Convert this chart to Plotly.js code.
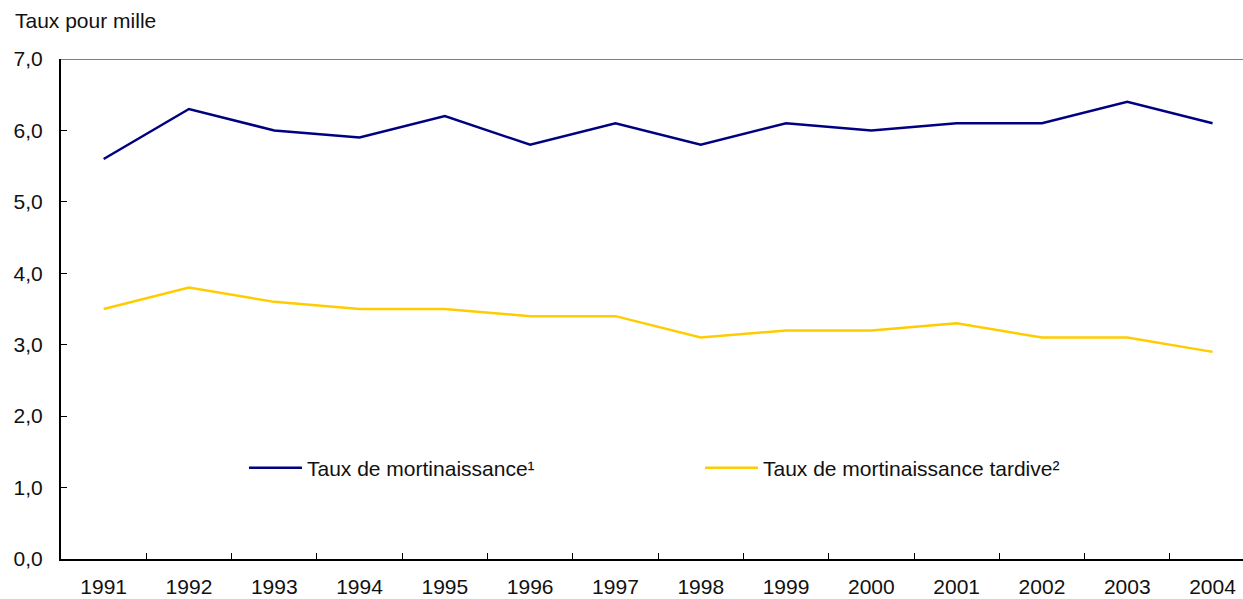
<!DOCTYPE html>
<html>
<head>
<meta charset="utf-8">
<script src="https://cdn.plot.ly/plotly-3.0.1.min.js"></script>
<style>html,body{margin:0;padding:0;background:#fff;}#chart{width:1243px;height:599px;}</style>
</head>
<body>
<div id="chart"></div>
<script>
const years = ["1991","1992","1993","1994","1995","1996","1997","1998","1999","2000","2001","2002","2003","2004"];
const tauxMortinaissance = [5.6, 6.3, 6.0, 5.9, 6.2, 5.8, 6.1, 5.8, 6.1, 6.0, 6.1, 6.1, 6.4, 6.1];
const tauxTardive = [3.5, 3.8, 3.6, 3.5, 3.5, 3.4, 3.4, 3.1, 3.2, 3.2, 3.3, 3.1, 3.1, 2.9];
const seriesNames = ["Taux de mortinaissance\u00b9", "Taux de mortinaissance tardive\u00b2"];
const yTicks = [0, 1, 2, 3, 4, 5, 6, 7];
const yAxisTitle = "Taux pour mille";

const font = {family: "Liberation Sans, Arial, Helvetica, sans-serif", size: 21, color: "#111"};

const traces = [
  {x: years, y: tauxMortinaissance, type: "scatter", mode: "lines", name: seriesNames[0],
   line: {color: "#000080", width: 2.5}},
  {x: years, y: tauxTardive, type: "scatter", mode: "lines", name: seriesNames[1],
   line: {color: "#FFCC00", width: 2.5}}
];

const layout = {
  width: 1243, height: 599,
  margin: {l: 61, r: 0, t: 59, b: 40, pad: 0},
  paper_bgcolor: "#fff", plot_bgcolor: "#fff",
  font: font,
  separators: ", ",
  showlegend: true,
  legend: {orientation: "h", x: 0.1548, y: 0.182, xanchor: "left", yanchor: "middle",
           entrywidth: 388, entrywidthmode: "pixels", itemwidth: 53,
           font: font, bgcolor: "rgba(0,0,0,0)", traceorder: "normal"},
  xaxis: {type: "category", range: [-0.5, 13.357], showgrid: false, zeroline: false,
          showline: true, linecolor: "#000", linewidth: 2,
          ticks: "inside", tickson: "boundaries", ticklen: 6, tickcolor: "#000", tickwidth: 1,
          ticklabelstandoff: 8, tickfont: font, fixedrange: true},
  yaxis: {range: [0, 7], tickvals: yTicks, tickformat: ".1f", showgrid: false, zeroline: false,
          showline: true, linecolor: "#000", linewidth: 2,
          ticks: "inside", ticklen: 6, tickcolor: "#000", tickwidth: 1,
          ticklabelstandoff: 12, tickfont: font, fixedrange: true},
  shapes: [
    {type: "line", xref: "paper", yref: "y", x0: 0, x1: 1, y0: 7, y1: 7,
     line: {color: "#808080", width: 2}, layer: "below"}
  ],
  annotations: [
    {text: yAxisTitle, xref: "paper", yref: "paper", x: -0.0406, y: 1.076,
     xanchor: "left", yanchor: "middle", showarrow: false, font: font}
  ]
};

Plotly.newPlot("chart", traces, layout, {displayModeBar: false, staticPlot: true});
</script>
</body>
</html>
